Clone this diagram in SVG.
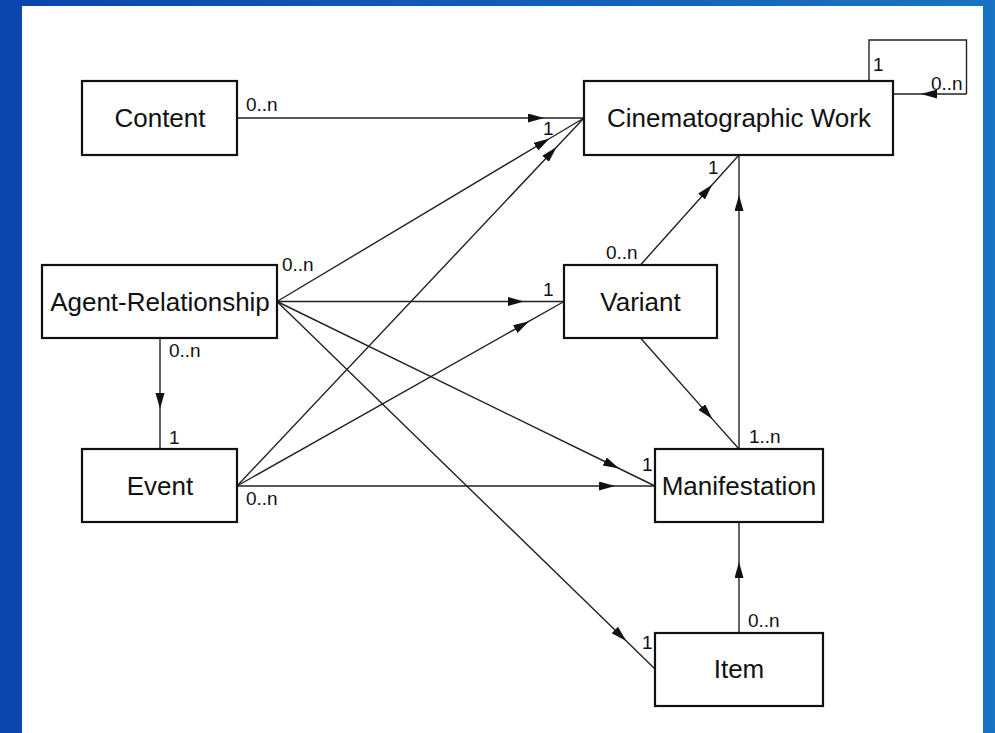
<svg xmlns="http://www.w3.org/2000/svg" width="995" height="733" viewBox="0 0 995 733">
<defs>
<linearGradient id="bg" x1="0" y1="0" x2="1" y2="0">
<stop offset="0" stop-color="#0b45ad"/>
<stop offset="1" stop-color="#1a73c4"/>
</linearGradient>
<marker id="ah" markerUnits="userSpaceOnUse" markerWidth="16" markerHeight="10" refX="16" refY="4.5" orient="auto">
<path d="M0,0 L16,4.5 L0,9 z" fill="#111"/>
</marker>
<style>
.box{fill:#fff;stroke:#111;stroke-width:2.2}
.lbl{font-family:"Liberation Sans",Arial,sans-serif;font-size:26px;fill:#111;text-anchor:middle}
.m{font-family:"Liberation Sans",Arial,sans-serif;font-size:19px;fill:#111}
.c{fill:none;stroke:#222;stroke-width:1.4;marker-mid:url(#ah)}
.p{fill:none;stroke:#222;stroke-width:1.4}
</style>
</defs>
<rect x="0" y="0" width="995" height="733" fill="url(#bg)"/>
<rect x="22" y="6" width="961" height="727" fill="#fff"/>

<g id="connectors">
<path class="c" d="M237,118 L544,118 L584,118"/>
<path class="c" d="M277,301.5 L549.6,138.5 L584,118"/>
<path class="c" d="M237,486 L556.6,147.1 L584,118"/>
<path class="c" d="M640.5,265 L712.2,184.7 L739,155"/>
<path class="c" d="M739,449 L739,195 L739,155"/>
<path class="c" d="M277,301.5 L524,301.5 L564,301.5"/>
<path class="c" d="M237,486 L529.2,321.2 L564,301.5"/>
<path class="c" d="M277,301.5 L619.1,468.5 L655,486"/>
<path class="c" d="M237,486 L615,486 L655,486"/>
<path class="c" d="M640.5,338 L712.4,419.1 L739,449"/>
<path class="c" d="M277,301.5 L626.3,641.1 L655,669"/>
<path class="c" d="M739,633 L739,562 L739,522"/>
<path class="c" d="M160,338 L160,409 L160,449"/>
<path class="p" d="M869,81 V40 H966.5 V94"/>
<path class="c" d="M966.5,94 L921,94 L893,94"/>
</g>

<g id="content"><rect class="box" x="82" y="81" width="155" height="74"/><text class="lbl" x="160" y="127">Content</text></g>
<g id="cinematographic-work"><rect class="box" x="584" y="81" width="309" height="74"/><text class="lbl" x="739" y="127">Cinematographic Work</text></g>
<g id="agent-relationship"><rect class="box" x="42" y="265" width="235" height="73"/><text class="lbl" x="160" y="311">Agent-Relationship</text></g>
<g id="variant"><rect class="box" x="564" y="265" width="153" height="73"/><text class="lbl" x="640.5" y="311">Variant</text></g>
<g id="event"><rect class="box" x="82" y="449" width="155" height="73"/><text class="lbl" x="160" y="495">Event</text></g>
<g id="manifestation"><rect class="box" x="655" y="449" width="168" height="73"/><text class="lbl" x="739" y="495">Manifestation</text></g>
<g id="item"><rect class="box" x="655" y="633" width="168" height="73"/><text class="lbl" x="739" y="678">Item</text></g>

<g id="multiplicities">
<text class="m" x="246" y="111">0..n</text>
<text class="m" x="543" y="135">1</text>
<text class="m" x="873" y="71">1</text>
<text class="m" x="931" y="90">0..n</text>
<text class="m" x="708" y="174">1</text>
<text class="m" x="282" y="271">0..n</text>
<text class="m" x="606" y="259">0..n</text>
<text class="m" x="543" y="296">1</text>
<text class="m" x="169" y="357">0..n</text>
<text class="m" x="169" y="444">1</text>
<text class="m" x="749" y="443">1..n</text>
<text class="m" x="642" y="471">1</text>
<text class="m" x="246" y="505">0..n</text>
<text class="m" x="642" y="649">1</text>
<text class="m" x="748" y="627">0..n</text>
</g>
</svg>
